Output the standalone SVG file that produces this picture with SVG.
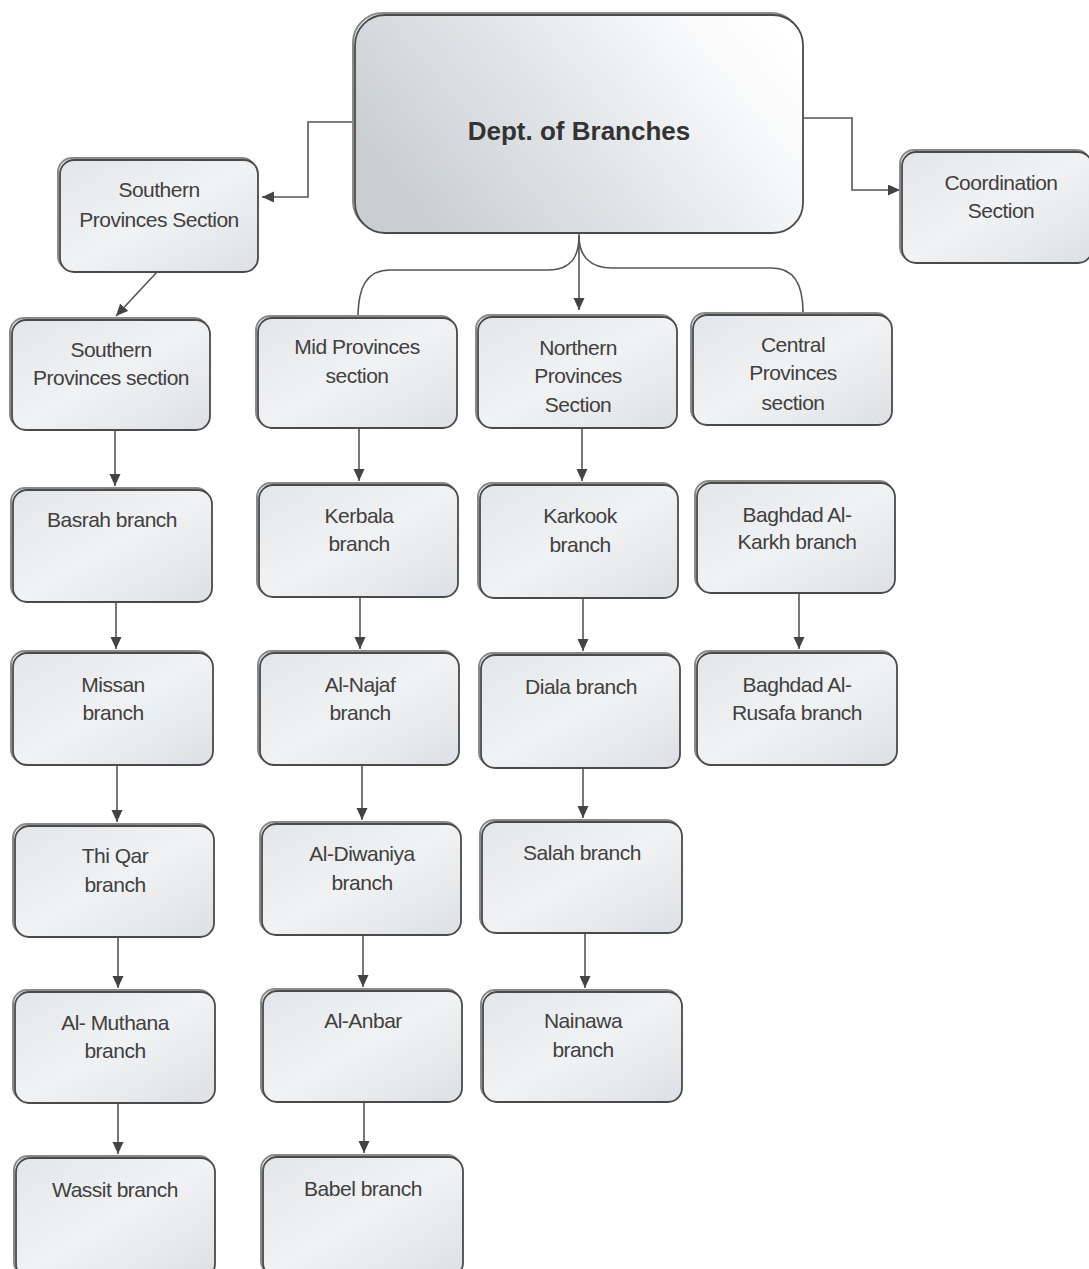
<svg xmlns="http://www.w3.org/2000/svg" width="1089" height="1269" viewBox="0 0 1089 1269">
<defs>
<linearGradient id="gBox" x1="0" y1="0" x2="1" y2="1">
<stop offset="0" stop-color="#e3e6e9"/>
<stop offset="0.5" stop-color="#f1f2f3"/>
<stop offset="1" stop-color="#dde0e3"/>
</linearGradient>
<linearGradient id="gTop" x1="0" y1="0.6" x2="1" y2="0.2">
<stop offset="0" stop-color="#c9ced3"/>
<stop offset="0.45" stop-color="#e2e5e8"/>
<stop offset="0.8" stop-color="#f7f8f9"/>
<stop offset="1" stop-color="#ffffff"/>
</linearGradient>
<marker id="ah" markerUnits="userSpaceOnUse" markerWidth="14" markerHeight="12" refX="12" refY="5.5" orient="auto">
<path d="M0,0 L12,5.5 L0,11 Z" fill="#444"/>
</marker>
<style>
.bx{fill:url(#gBox);stroke:#4a4a4a;stroke-width:1.8}
.sh{fill:none;stroke:#8a8a8a;stroke-width:2}
.t{font-family:"Liberation Sans Narrow","Liberation Sans",Arial,sans-serif;font-size:21px;letter-spacing:-0.5px;fill:#404040;text-anchor:middle}
.tb{font-family:"Liberation Sans",Arial,sans-serif;font-size:26px;font-weight:bold;fill:#333;text-anchor:middle}
.c{fill:none;stroke:#555;stroke-width:1.6}
.a{fill:none;stroke:#555;stroke-width:1.6;marker-end:url(#ah)}
</style>
</defs>
<rect width="1089" height="1269" fill="#ffffff"/>

<g id="connectors">
<path class="a" d="M355,122 H308 V197 H262"/>
<path class="a" d="M803,118 H852 V190 H900"/>
<path class="a" d="M157,272 L116,316"/>
<path class="a" d="M579,233 V310"/>
<path class="c" d="M579,236 C579,258 570,270 548,270 L390,270 C368,270 358,285 358,318"/>
<path class="c" d="M579,236 C579,256 590,268 612,268 L772,268 C792,268 803,282 803,312"/>
<path class="a" d="M115,431 V486"/>
<path class="a" d="M116,602 V649"/>
<path class="a" d="M117,765 V822"/>
<path class="a" d="M118,937 V988"/>
<path class="a" d="M118,1103 V1154"/>
<path class="a" d="M359,428 V481"/>
<path class="a" d="M360,597 V649"/>
<path class="a" d="M362,765 V820"/>
<path class="a" d="M363,935 V987"/>
<path class="a" d="M364,1102 V1153"/>
<path class="a" d="M582,428 V481"/>
<path class="a" d="M583,598 V651"/>
<path class="a" d="M583,768 V818"/>
<path class="a" d="M585,933 V988"/>
<path class="a" d="M799,593 V649"/>
</g>

<g id="dept">
<rect class="sh" x="353" y="13" width="448" height="218" rx="30"/>
<rect x="355" y="15" width="448" height="218" rx="30" fill="url(#gTop)" stroke="#4a4a4a" stroke-width="1.8"/>
<text class="tb" x="579" y="140">Dept. of Branches</text>
</g>

<g id="southSecTop">
<rect class="sh" x="58" y="158" width="198" height="112" rx="14"/>
<rect class="bx" x="60" y="160" width="198" height="112" rx="14"/>
<text class="t" x="159" y="197">Southern</text>
<text class="t" x="159" y="227">Provinces Section</text>
</g>

<g id="coord">
<rect class="sh" x="900" y="150" width="190" height="111" rx="14"/>
<rect class="bx" x="902" y="152" width="190" height="111" rx="14"/>
<text class="t" x="1001" y="190">Coordination</text>
<text class="t" x="1001" y="218">Section</text>
</g>

<g id="southern">
<rect class="sh" x="10" y="318" width="198" height="110" rx="14"/>
<rect class="bx" x="12" y="320" width="198" height="110" rx="14"/>
<text class="t" x="111" y="357">Southern</text>
<text class="t" x="111" y="385">Provinces section</text>
</g>

<g id="mid">
<rect class="sh" x="256" y="316" width="199" height="110" rx="14"/>
<rect class="bx" x="258" y="318" width="199" height="110" rx="14"/>
<text class="t" x="357" y="354">Mid Provinces</text>
<text class="t" x="357" y="383">section</text>
</g>

<g id="northern">
<rect class="sh" x="476" y="315" width="199" height="111" rx="14"/>
<rect class="bx" x="478" y="317" width="199" height="111" rx="14"/>
<text class="t" x="578" y="355">Northern</text>
<text class="t" x="578" y="383">Provinces</text>
<text class="t" x="578" y="412">Section</text>
</g>

<g id="central">
<rect class="sh" x="691" y="313" width="199" height="110" rx="14"/>
<rect class="bx" x="693" y="315" width="199" height="110" rx="14"/>
<text class="t" x="793" y="352">Central</text>
<text class="t" x="793" y="380">Provinces</text>
<text class="t" x="793" y="410">section</text>
</g>

<g id="basrah">
<rect class="sh" x="11" y="488" width="199" height="112" rx="14"/>
<rect class="bx" x="13" y="490" width="199" height="112" rx="14"/>
<text class="t" x="112" y="527">Basrah branch</text>
</g>

<g id="kerbala">
<rect class="sh" x="257" y="483" width="199" height="112" rx="14"/>
<rect class="bx" x="259" y="485" width="199" height="112" rx="14"/>
<text class="t" x="359" y="523">Kerbala</text>
<text class="t" x="359" y="551">branch</text>
</g>

<g id="karkook">
<rect class="sh" x="478" y="483" width="198" height="113" rx="14"/>
<rect class="bx" x="480" y="485" width="198" height="113" rx="14"/>
<text class="t" x="580" y="523">Karkook</text>
<text class="t" x="580" y="552">branch</text>
</g>

<g id="karkh">
<rect class="sh" x="695" y="481" width="198" height="110" rx="14"/>
<rect class="bx" x="697" y="483" width="198" height="110" rx="14"/>
<text class="t" x="797" y="522">Baghdad Al-</text>
<text class="t" x="797" y="549">Karkh branch</text>
</g>

<g id="missan">
<rect class="sh" x="11" y="651" width="200" height="112" rx="14"/>
<rect class="bx" x="13" y="653" width="200" height="112" rx="14"/>
<text class="t" x="113" y="692">Missan</text>
<text class="t" x="113" y="720">branch</text>
</g>

<g id="najaf">
<rect class="sh" x="258" y="651" width="199" height="112" rx="14"/>
<rect class="bx" x="260" y="653" width="199" height="112" rx="14"/>
<text class="t" x="360" y="692">Al-Najaf</text>
<text class="t" x="360" y="720">branch</text>
</g>

<g id="diala">
<rect class="sh" x="479" y="653" width="199" height="113" rx="14"/>
<rect class="bx" x="481" y="655" width="199" height="113" rx="14"/>
<text class="t" x="581" y="694">Diala branch</text>
</g>

<g id="rusafa">
<rect class="sh" x="695" y="651" width="200" height="112" rx="14"/>
<rect class="bx" x="697" y="653" width="200" height="112" rx="14"/>
<text class="t" x="797" y="692">Baghdad Al-</text>
<text class="t" x="797" y="720">Rusafa branch</text>
</g>

<g id="thiqar">
<rect class="sh" x="13" y="824" width="199" height="111" rx="14"/>
<rect class="bx" x="15" y="826" width="199" height="111" rx="14"/>
<text class="t" x="115" y="863">Thi Qar</text>
<text class="t" x="115" y="892">branch</text>
</g>

<g id="diwaniya">
<rect class="sh" x="260" y="822" width="199" height="111" rx="14"/>
<rect class="bx" x="262" y="824" width="199" height="111" rx="14"/>
<text class="t" x="362" y="861">Al-Diwaniya</text>
<text class="t" x="362" y="890">branch</text>
</g>

<g id="salah">
<rect class="sh" x="480" y="820" width="200" height="111" rx="14"/>
<rect class="bx" x="482" y="822" width="200" height="111" rx="14"/>
<text class="t" x="582" y="860">Salah branch</text>
</g>

<g id="muthana">
<rect class="sh" x="13" y="990" width="200" height="111" rx="14"/>
<rect class="bx" x="15" y="992" width="200" height="111" rx="14"/>
<text class="t" x="115" y="1030">Al- Muthana</text>
<text class="t" x="115" y="1058">branch</text>
</g>

<g id="anbar">
<rect class="sh" x="261" y="989" width="199" height="111" rx="14"/>
<rect class="bx" x="263" y="991" width="199" height="111" rx="14"/>
<text class="t" x="363" y="1028">Al-Anbar</text>
</g>

<g id="nainawa">
<rect class="sh" x="481" y="990" width="199" height="110" rx="14"/>
<rect class="bx" x="483" y="992" width="199" height="110" rx="14"/>
<text class="t" x="583" y="1028">Nainawa</text>
<text class="t" x="583" y="1057">branch</text>
</g>

<g id="wassit">
<rect class="sh" x="14" y="1156" width="199" height="120" rx="14"/>
<rect class="bx" x="16" y="1158" width="199" height="120" rx="14"/>
<text class="t" x="115" y="1197">Wassit branch</text>
</g>

<g id="babel">
<rect class="sh" x="261" y="1155" width="200" height="120" rx="14"/>
<rect class="bx" x="263" y="1157" width="200" height="120" rx="14"/>
<text class="t" x="363" y="1196">Babel branch</text>
</g>
</svg>
